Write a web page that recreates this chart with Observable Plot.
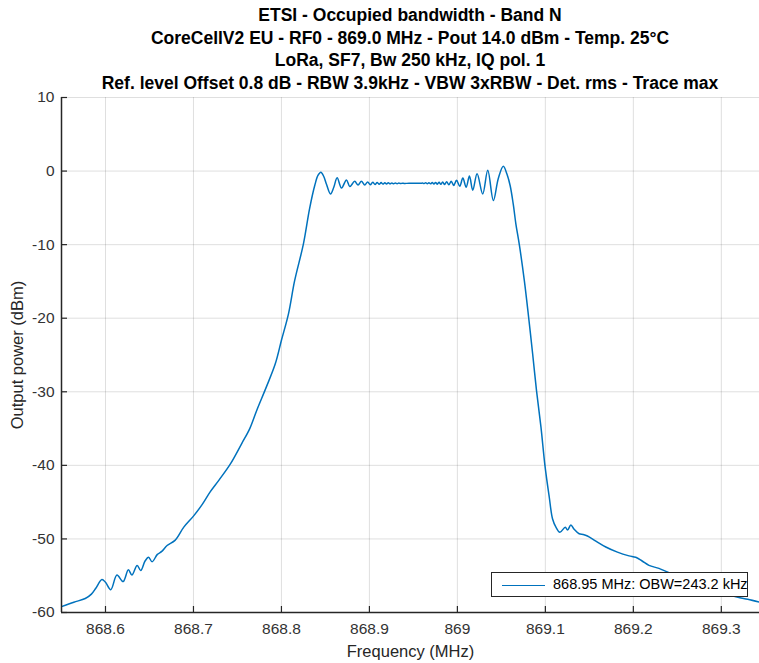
<!DOCTYPE html>
<html><head><meta charset="utf-8">
<script src="https://cdn.jsdelivr.net/npm/d3@7"></script>
<script src="https://cdn.jsdelivr.net/npm/@observablehq/plot@0.6"></script>
<style>
html,body{margin:0;padding:0;background:#fff;}
#wrap{position:relative;width:759px;height:663px;overflow:hidden;font-family:"Liberation Sans",Arial,Helvetica,sans-serif;}
#title{position:absolute;left:61px;width:698px;top:4px;text-align:center;font-weight:bold;font-size:17.5px;line-height:22.7px;color:#000;}
#chart{position:absolute;left:0;top:0;}
#legend{position:absolute;left:491px;top:572px;width:255px;height:23px;border:1px solid #262626;background:#fff;font-size:14.5px;color:#000;}
#legend .swatch{position:absolute;left:10px;top:12px;width:43px;height:0;border-top:1.5px solid #0072BD;}
#legend .lab{position:absolute;left:61px;top:3px;white-space:nowrap;}
</style></head><body>
<div id="wrap"><div id="chart"></div><div id="title"></div><div id="legend"></div></div>
<script>
const titleLines = [
  "ETSI - Occupied bandwidth - Band N",
  "CoreCellV2 EU - RF0 - 869.0 MHz - Pout 14.0 dBm - Temp. 25°C",
  "LoRa, SF7, Bw 250 kHz, IQ pol. 1",
  "Ref. level Offset 0.8 dB - RBW 3.9kHz - VBW 3xRBW - Det. rms - Trace max"
];
const xLabel = "Frequency (MHz)";
const yLabel = "Output power (dBm)";
const legendLabel = "868.95 MHz: OBW=243.2 kHz";
const xDomain = [868.55, 869.3434];
const yDomain = [-60, 10];
const xTicks = [868.6, 868.7, 868.8, 868.9, 869.0, 869.1, 869.2, 869.3];
const xTickLabels = ["868.6", "868.7", "868.8", "868.9", "869", "869.1", "869.2", "869.3"];
const yTicks = [-60, -50, -40, -30, -20, -10, 0, 10];
const yTickLabels = ["-60", "-50", "-40", "-30", "-20", "-10", "0", "10"];

// Trace (frequency in MHz, power in dBm)
const freq = [
  868.550, 868.564, 868.577, 868.584, 868.589, 868.596, 868.600, 868.606, 868.613, 868.620,
  868.626, 868.630, 868.636, 868.640, 868.645, 868.649, 868.653, 868.659, 868.664, 868.670,
  868.679, 868.689, 868.700, 868.710, 868.719, 868.729, 868.742, 868.755, 868.764, 868.772,
  868.783, 868.793, 868.800, 868.808, 868.815, 868.825, 868.832, 868.838, 868.8415, 868.8448,
  868.848, 868.8512, 868.8558, 868.8595, 868.8633, 868.8683, 868.8739, 868.8777, 868.8833, 868.8871,
  868.8909, 868.8947, 868.8980, 868.9010, 868.9038, 868.9064, 868.9088, 868.9111, 868.9133, 868.9154,
  868.9175, 868.9195, 868.9215, 868.9235, 868.9255, 868.9275, 868.9295, 868.9315, 868.9335, 868.9355,
  868.9375, 868.9395, 868.9450, 868.9550, 868.9585, 868.9604, 868.9622, 868.9640, 868.9658, 868.9676,
  868.9695, 868.9714, 868.9733, 868.9752, 868.9772, 868.9792, 868.9812, 868.9833, 868.9855, 868.9878,
  868.9903, 868.9930, 868.9958, 868.9990, 869.0027, 869.0062, 869.0100, 869.0137, 869.0175, 869.0224,
  869.0288, 869.0345, 869.0409, 869.0465, 869.0522, 869.0563, 869.0600, 869.0635, 869.0665, 869.0704,
  869.0761, 869.0810, 869.0855, 869.0900, 869.0950, 869.0995, 869.1044, 869.1082, 869.1120, 869.1165,
  869.1226, 869.1252, 869.1290, 869.1327, 869.1384, 869.1430, 869.1478, 869.1574, 869.1687, 869.1819,
  869.1951, 869.2027, 869.2100, 869.2178, 869.2291, 869.2385, 869.2500, 869.2745, 869.2972, 869.3179,
  869.3300, 869.3434
];
const power = [
  -59.2, -58.6, -58.1, -57.5, -56.7, -55.5, -55.9, -56.9, -54.9, -55.8,
  -54.2, -54.9, -53.6, -54.3, -53.0, -52.5, -53.1, -52.1, -51.7, -50.9,
  -50.2, -48.4, -46.9, -45.3, -43.6, -42.0, -39.8, -37.0, -35.0, -32.5,
  -29.3, -26.2, -23.0, -19.4, -14.9, -9.9, -5.1, -1.9, -0.6, -0.15,
  -0.7, -1.8, -3.1, -2.2, -0.9, -2.3, -1.2, -2.1, -1.4, -1.9,
  -1.4, -1.9, -1.48, -1.86, -1.52, -1.82, -1.55, -1.79, -1.57, -1.77,
  -1.59, -1.75, -1.60, -1.73, -1.61, -1.72, -1.62, -1.71, -1.63, -1.70,
  -1.64, -1.68, -1.66, -1.66, -1.67, -1.63, -1.70, -1.60, -1.72, -1.58,
  -1.74, -1.56, -1.76, -1.54, -1.78, -1.52, -1.80, -1.49, -1.83, -1.45,
  -1.87, -1.38, -1.95, -1.25, -2.05, -0.95, -2.2, -0.68, -2.6, -0.35,
  -3.1, 0.1, -4.0, -1.0, 0.64, -0.4, -2.0, -4.5, -7.2, -10.0,
  -14.9, -19.9, -24.8, -29.9, -34.8, -40.0, -44.3, -47.3, -48.4, -49.1,
  -48.4, -48.8, -48.1, -48.7, -49.3, -49.4, -49.6, -50.3, -51.1, -51.8,
  -52.3, -52.5, -53.0, -53.6, -54.0, -54.5, -55.1, -56.0, -57.0, -57.9,
  -58.2, -58.6
];

const W = 759, H = 663, mT = 97, mB = 51, mL = 61, mR = 0;
const plotW = W - mL - mR, plotH = H - mT - mB;
const data = freq.map((f, i) => ({f, p: power[i]}));
const axisColor = "#262626";

const chart = Plot.plot({
  width: W, height: H,
  marginTop: mT, marginBottom: mB, marginLeft: mL, marginRight: mR,
  style: {fontFamily: "'Liberation Sans', Arial, Helvetica, sans-serif", fontSize: "15.5px", color: axisColor, background: "transparent", overflow: "visible"},
  x: {domain: xDomain},
  y: {domain: yDomain},
  marks: [
    Plot.gridX(xTicks, {stroke: axisColor, strokeOpacity: 0.15, strokeWidth: 1}),
    Plot.gridY(yTicks, {stroke: axisColor, strokeOpacity: 0.15, strokeWidth: 1}),
    Plot.line(data, {x: "f", y: "p", stroke: "#0072BD", strokeWidth: 1.5, curve: "catmull-rom", clip: true}),
    Plot.ruleX(xTicks, {insetTop: plotH - 6, stroke: axisColor, strokeWidth: 1.2}),
    Plot.ruleY(yTicks, {insetRight: plotW - 6, stroke: axisColor, strokeWidth: 1.2}),
    Plot.ruleX([xDomain[0]], {stroke: axisColor, strokeWidth: 1.5}),
    Plot.ruleY([yDomain[0]], {stroke: axisColor, strokeWidth: 1.5}),
    Plot.axisX(xTicks, {tickSize: 0, tickPadding: 10, fill: "#333", fontSize: 15.5,
      tickFormat: d => xTickLabels[xTicks.indexOf(d)], label: null}),
    Plot.axisY(yTicks, {tickSize: 0, tickPadding: 7, fill: "#333", fontSize: 15.5,
      tickFormat: d => yTickLabels[yTicks.indexOf(d)], label: null}),
    Plot.text([xLabel], {frameAnchor: "bottom", lineAnchor: "middle", textAnchor: "middle", dy: 39, fontSize: 16.5, fill: axisColor}),
    Plot.text([yLabel], {frameAnchor: "left", lineAnchor: "middle", textAnchor: "middle", dx: -44, rotate: -90, fontSize: 16.5, fill: axisColor})
  ]
});
document.getElementById("chart").appendChild(chart);

const t = document.getElementById("title");
titleLines.forEach(s => { const d = document.createElement("div"); d.textContent = s; t.appendChild(d); });
const lg = document.getElementById("legend");
lg.innerHTML = '<div class="swatch"></div><div class="lab"></div>';
lg.querySelector(".lab").textContent = legendLabel;
</script>
</body></html>
